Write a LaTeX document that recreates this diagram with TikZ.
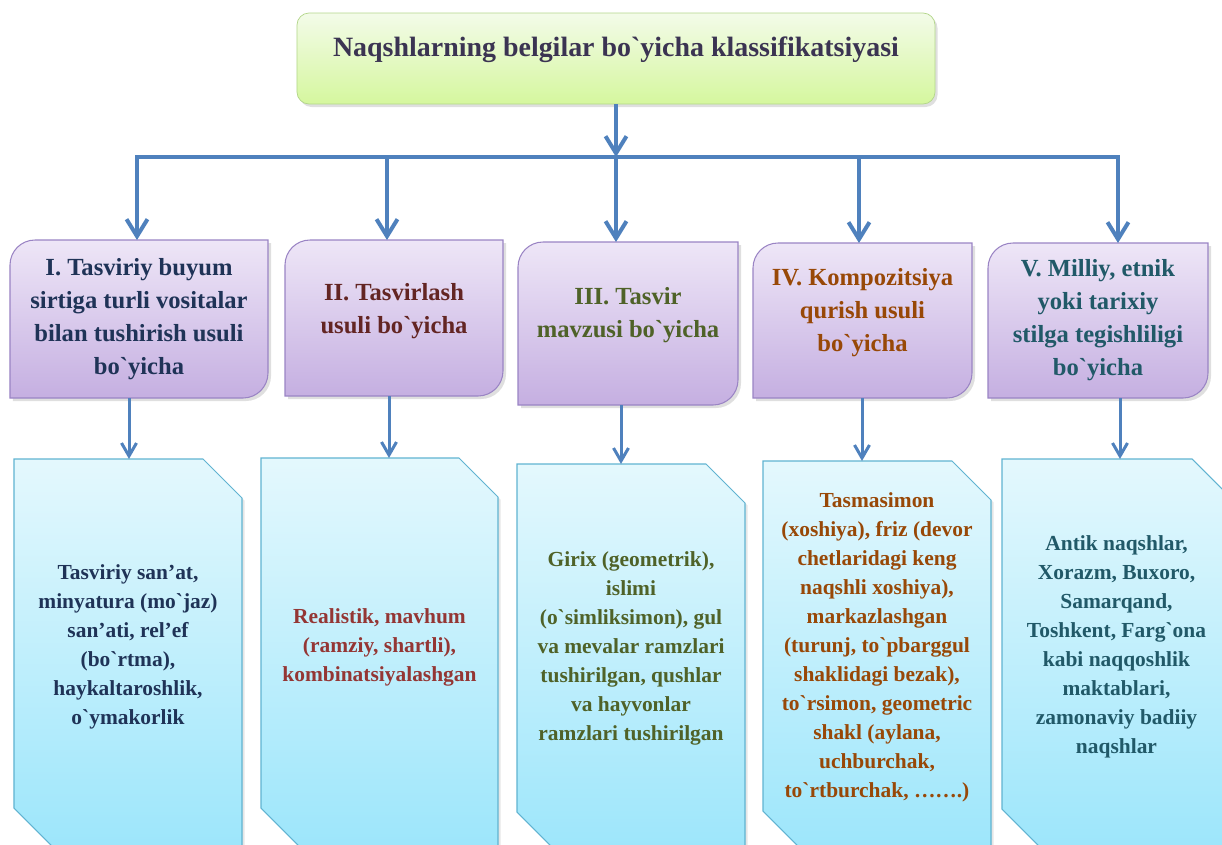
\documentclass[tikz,border=0pt]{standalone}
\usepackage{fontspec}
\setmainfont{Liberation Serif}
\usetikzlibrary{positioning,arrows.meta,backgrounds,shadows}

\definecolor{arrowblue}{HTML}{4F81BD}
\definecolor{ttop}{HTML}{F3FBE9}
\definecolor{tbot}{HTML}{D5F79E}
\definecolor{tline}{HTML}{B3D68A}
\definecolor{ttext}{HTML}{3B3452}
\definecolor{ptop}{HTML}{EEE6F7}
\definecolor{pbot}{HTML}{C5AFE1}
\definecolor{pline}{HTML}{9A84C4}
\definecolor{btop}{HTML}{E4F8FD}
\definecolor{bbot}{HTML}{9DE6FB}
\definecolor{bline}{HTML}{60B3D1}
\definecolor{navytext}{HTML}{1F3357}
\definecolor{winetext}{HTML}{632523}
\definecolor{redtext}{HTML}{943634}
\definecolor{olivetext}{HTML}{4F6228}
\definecolor{rusttext}{HTML}{984807}
\definecolor{tealtext}{HTML}{215968}

\newcommand{\grv}{\textasciigrave}

\begin{document}
\begin{tikzpicture}[x=0.2mm, y=-0.2mm, >={Straight Barb[length=3.4mm,width=4.2mm]},
    kind/.style={inner sep=0pt, outer sep=0pt},
    ktext/.style={font=\fontsize{14}{18.8}\selectfont\bfseries, align=center},
    dtext/.style={font=\fontsize{12.2}{16.5}\selectfont\bfseries, align=center},
    pshape/.style={draw=pline, line width=0.6pt, top color=ptop, bottom color=pbot,
        drop shadow={shadow xshift=0.6mm, shadow yshift=-0.6mm, opacity=0.25}},
    bshape/.style={draw=bline, line width=0.6pt, top color=btop, bottom color=bbot,
        drop shadow={shadow xshift=0.5mm, shadow yshift=-0.5mm, opacity=0.2}},
    conn/.style={draw=arrowblue, line width=0.8mm, ->},
    conn2/.style={draw=arrowblue, line width=0.6mm, -{Straight Barb[length=2.6mm,width=3mm]}},
]

    \useasboundingbox (0,0) rectangle (1222,845);

    \node[kind, draw=tline, rounded corners=2.4mm, top color=ttop, bottom color=tbot,
          minimum width=127.6mm, minimum height=18.2mm,
          drop shadow={shadow xshift=0.5mm, shadow yshift=-0.6mm, opacity=0.25},
          label={[name=tt, yshift=1.7mm, text=ttext, font=\fontsize{15.9}{19}\selectfont\bfseries]center:Naqshlarning belgilar bo\grv yicha klassifikatsiyasi}] (title) at (616,58.5) {};

    \node[kind, minimum width=51.6mm, minimum height=31.6mm,
          label={[ktext, name=pt1, text=navytext]center:{I. Tasviriy buyum\\sirtiga turli vositalar\\bilan tushirish usuli\\bo\grv yicha}}] (p1) at (139,319) {};
    \node[kind, minimum width=43.6mm, minimum height=31.2mm,
          label={[ktext, name=pt2, text=winetext, yshift=1.3mm]center:{II. Tasvirlash\\usuli bo\grv yicha}}] (p2) at (394,318) {};
    \node[kind, minimum width=44mm, minimum height=32.6mm,
          label={[ktext, name=pt3, text=olivetext, yshift=1.6mm]center:{III. Tasvir\\mavzusi bo\grv yicha}}] (p3) at (628,323.5) {};
    \node[kind, minimum width=43.8mm, minimum height=31mm,
          label={[ktext, name=pt4, text=rusttext, yshift=1.5mm]center:{IV. Kompozitsiya\\qurish usuli\\bo\grv yicha}}] (p4) at (862.5,320.5) {};
    \node[kind, minimum width=44mm, minimum height=31mm,
          label={[ktext, name=pt5, text=tealtext]center:{V. Milliy, etnik\\yoki tarixiy\\stilga tegishliligi\\bo\grv yicha}}] (p5) at (1098,320.5) {};

    \node[kind, minimum width=45.6mm, minimum height=77.6mm,
          label={[dtext, name=bt1, text=navytext, yshift=1.2mm]center:{Tasviriy san’at,\\minyatura (mo\grv jaz)\\san’ati, rel’ef\\(bo\grv rtma),\\haykaltaroshlik,\\o\grv ymakorlik}}] (b1) at (128,653) {};
    \node[kind, minimum width=47.4mm, minimum height=77.8mm,
          label={[dtext, name=bt2, text=redtext, yshift=1.1mm]center:{Realistik, mavhum\\(ramziy, shartli),\\kombinatsiyalashgan}}] (b2) at (379.5,652.5) {};
    \node[kind, minimum width=45.6mm, minimum height=77.4mm,
          label={[dtext, name=bt3, text=olivetext, yshift=1.8mm]center:{Girix (geometrik),\\islimi\\(o\grv simliksimon), gul\\va mevalar ramzlari\\tushirilgan, qushlar\\va hayvonlar\\ramzlari tushirilgan}}] (b3) at (631,657.5) {};
    \node[kind, minimum width=45.6mm, minimum height=77.8mm,
          label={[dtext, name=bt4, text=rusttext, yshift=1.7mm]center:{Tasmasimon\\(xoshiya), friz (devor\\chetlaridagi keng\\naqshli xoshiya),\\markazlashgan\\(turunj, to\grv pbarggul\\shaklidagi bezak),\\to\grv rsimon, geometric\\shakl (aylana,\\uchburchak,\\to\grv rtburchak, …….)}}] (b4) at (877,655.5) {};
    \node[kind, minimum width=45.8mm, minimum height=77.8mm,
          label={[dtext, name=bt5, text=tealtext, yshift=1.3mm]center:{Antik naqshlar,\\Xorazm, Buxoro,\\Samarqand,\\Toshkent, Farg\grv ona\\kabi naqqoshlik\\maktablari,\\zamonaviy badiiy\\naqshlar}}] (b5) at (1116.5,653.5) {};

    \begin{scope}[on background layer]
    \foreach \i in {1,...,5}
    {
        \path[pshape] ([yshift=-5mm]p\i.north west) arc[start angle=180, end angle=90, radius=5mm]
            -- (p\i.north east) -- ([yshift=5mm]p\i.south east) arc[start angle=0, end angle=-90, radius=5mm]
            -- (p\i.south west) -- cycle;
        \path[bshape] (b\i.north west) -- ([xshift=-7.8mm]b\i.north east) -- ([yshift=-7.8mm]b\i.north east)
            -- (b\i.south east) -- ([xshift=7.8mm]b\i.south west) -- ([yshift=7.8mm]b\i.south west) -- cycle;
    }
    \end{scope}

    \coordinate (j1) at (137,157);
    \coordinate (j2) at (387,157);
    \coordinate (j3) at (616,157);
    \coordinate (j4) at (859,157);
    \coordinate (j5) at (1118,157);

    \draw[conn] (title) -- (j3);
    \draw[conn, <->] (j1 |- p1.north) -- (j1) -- (j5) -- (j5 |- p5.north);
    \foreach \i in {2,3,4}
        \draw[conn] (j\i) -- (j\i |- p\i.north);

\foreach \i/\kx in {1/129,2/389,3/621,4/862,5/1120}
{
    \coordinate (d\i) at (\kx,0);
    \draw[conn2] (p\i.south -| d\i) -- (b\i.north -| d\i);
}

\end{tikzpicture}
\end{document}
